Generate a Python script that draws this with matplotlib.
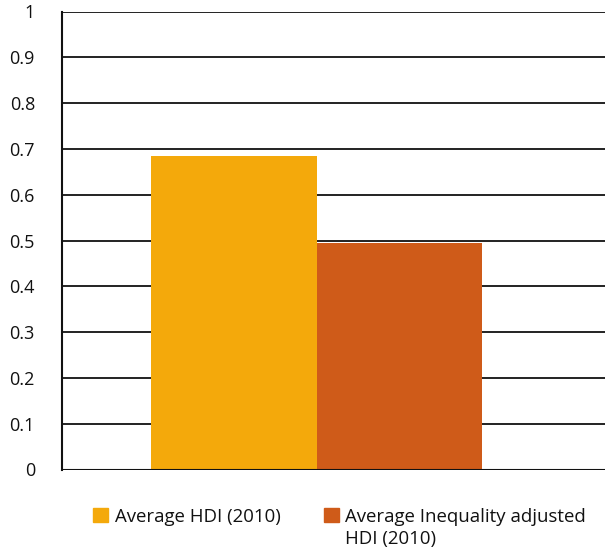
import matplotlib.pyplot as plt
from matplotlib.patches import Rectangle

plt.rcParams['font.family'] = ['Open Sans', 'DejaVu Sans']

labels = ['Average HDI (2010)', 'Average Inequality adjusted\nHDI (2010)']
values = [0.684, 0.495]
colors = ['#F4A90B', '#CF5B19']
yticks = [0, 0.1, 0.2, 0.3, 0.4, 0.5, 0.6, 0.7, 0.8, 0.9, 1]
ytick_labels = ['0', '0.1', '0.2', '0.3', '0.4', '0.5', '0.6', '0.7', '0.8', '0.9', '1']

W, H = 605, 550
fig = plt.figure(figsize=(W / 100, H / 100), dpi=100)
ax = fig.add_axes([62 / W, 1 - 469.5 / H, 1 - 62 / W, (469.5 - 11.5) / H])

bars = ax.bar(range(len(values)), values, width=1.0, color=colors, zorder=3)

ax.set_xlim(-1.04, 2.24)
ax.set_ylim(0, 1)
ax.set_yticks(yticks)
ax.set_yticklabels(ytick_labels, fontsize=13, color='#111111')
ax.tick_params(axis='y', length=0, pad=19.5)
ax.set_xticks([])
ax.yaxis.grid(True, color='#222222', linewidth=1.4, zorder=1)
ax.set_axisbelow(True)
for s in ['top', 'right', 'bottom']:
    ax.spines[s].set_visible(False)
ax.spines['left'].set_color('#111111')
ax.spines['left'].set_linewidth(1.5)
ax.axhline(0, color='#111111', linewidth=1.5, zorder=4)

# legend drawn by hand so the square sits on the first text line
legend_pos = [(93, 115), (324, 345)]
for bar, lab, (sx, tx) in zip(bars, labels, legend_pos):
    fig.add_artist(Rectangle((sx / W, 1 - 522 / H), 15 / W, 14 / H,
                             transform=fig.transFigure,
                             color=bar.get_facecolor()))
    nlines = lab.count('\n')
    fig.text(tx / W, 1 - (522 + 21.7 * nlines) / H, lab, fontsize=13.4,
             va='baseline', ha='left', linespacing=1.25, color='#111111')

fig.savefig('out.png', dpi=100)
